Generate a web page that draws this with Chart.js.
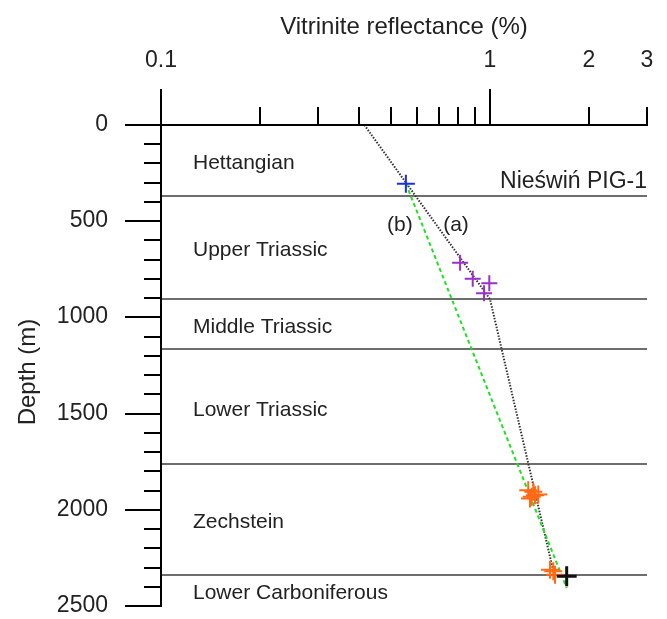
<!DOCTYPE html>
<html>
<head>
<meta charset="utf-8">
<script src="https://cdn.jsdelivr.net/npm/chart.js@4.4.0/dist/chart.umd.min.js"></script>
<style>
  html, body { margin: 0; padding: 0; background: #fff; }
  canvas { display: block; }
</style>
</head>
<body>
<canvas id="chart" width="667" height="619"></canvas>
<script>
// Vitrinite reflectance profile, Nieświń PIG-1 well

// Stratigraphic units and their base depths (m)
const unitNames = ['Hettangian', 'Upper Triassic', 'Middle Triassic', 'Lower Triassic', 'Zechstein', 'Lower Carboniferous'];
const boundaryDepths = [368, 906, 1166, 1764, 2338];

// Axis ticks
const roTicks = [0.1, 0.2, 0.3, 0.4, 0.5, 0.6, 0.7, 0.8, 0.9, 1, 2, 3];
const roTickLabels = ['0.1', '', '', '', '', '', '', '', '', '1', '2', '3'];
const depthTicks = [0, 100, 200, 300, 400, 500, 600, 700, 800, 900, 1000, 1100, 1200, 1300, 1400,
                    1500, 1600, 1700, 1800, 1900, 2000, 2100, 2200, 2300, 2400, 2500];
const depthTickLabels = ['0', '', '', '', '', '500', '', '', '', '', '1000', '', '', '', '',
                         '1500', '', '', '', '', '2000', '', '', '', '', '2500'];

// Measured Ro (%) and sample depth (m)
const hettangianRo = [0.555];
const hettangianDepth = [305];
const triassicRo = [0.811, 0.886, 0.995, 0.959];
const triassicDepth = [716, 799, 823, 875];
const zechsteinRo = [1.307, 1.354, 1.370, 1.402, 1.339, 1.323, 1.522, 1.557, 1.576];
const zechsteinDepth = [1898, 1906, 1924, 1920, 1932, 1941, 2312, 2320, 2338];
const carboniferousRo = [1.71];
const carboniferousDepth = [2346];

// Maturity trends: (a) dotted, (b) dashed
const trendARo = [0.415, 1.0, 1.556];
const trendADepth = [0, 905, 2315];
const trendBRo = [0.555, 1.71];
const trendBDepth = [305, 2407];

const pts = (xs, ys) => xs.map((v, i) => ({ x: v, y: ys[i] }));

const FONT = '"Liberation Sans", Arial, Helvetica, sans-serif';
const TEXT = '#222';

const framePlugin = {
  id: 'frame',
  beforeDatasetsDraw(chart) {
    const { ctx, chartArea: a, scales: { x, y } } = chart;
    ctx.save();
    // unit boundaries
    ctx.strokeStyle = '#6e6e6e';
    ctx.lineWidth = 2;
    boundaryDepths.forEach(d => {
      const py = Math.round(y.getPixelForValue(d));
      ctx.beginPath();
      ctx.moveTo(a.left, py);
      ctx.lineTo(a.right, py);
      ctx.stroke();
    });
    // unit names, centred in each interval
    ctx.fillStyle = TEXT;
    ctx.font = '21px ' + FONT;
    ctx.textAlign = 'left';
    ctx.textBaseline = 'middle';
    const edges = [y.min, ...boundaryDepths, y.max];
    unitNames.forEach((name, i) => {
      const py = y.getPixelForValue((edges[i] + edges[i + 1]) / 2) + 3;
      ctx.fillText(name, a.left + 32, py);
    });
    // well name
    ctx.font = '23px ' + FONT;
    ctx.textAlign = 'right';
    ctx.fillText('Nieświń PIG-1', a.right, y.getPixelForValue(boundaryDepths[0]) - 14);
    // trend labels
    ctx.font = '21px ' + FONT;
    ctx.textAlign = 'center';
    ctx.fillText('(b)', x.getPixelForValue(0.532), y.getPixelForValue(523));
    ctx.fillText('(a)', x.getPixelForValue(0.788), y.getPixelForValue(523));
    ctx.restore();
  },
  afterDatasetsDraw(chart) {
    const { ctx, chartArea: a, scales: { x, y } } = chart;
    ctx.save();
    ctx.strokeStyle = '#000';
    ctx.lineWidth = 2;
    ctx.lineCap = 'square';
    ctx.beginPath();
    ctx.moveTo(a.left, a.top);
    ctx.lineTo(a.right, a.top);
    ctx.moveTo(a.left, a.top);
    ctx.lineTo(a.left, a.bottom);
    ctx.stroke();

    ctx.lineCap = 'butt';
    ctx.fillStyle = TEXT;
    ctx.font = '23px ' + FONT;
    // Ro ticks (top)
    ctx.textAlign = 'center';
    ctx.textBaseline = 'middle';
    roTicks.forEach((v, i) => {
      const px = Math.round(x.getPixelForValue(v));
      const major = Math.abs(Math.log10(v) - Math.round(Math.log10(v))) < 1e-9;
      const len = major ? 36 : 18;
      ctx.beginPath();
      ctx.moveTo(px, a.top);
      ctx.lineTo(px, a.top - len);
      ctx.stroke();
      if (roTickLabels[i]) ctx.fillText(roTickLabels[i], px, 61);
    });
    // depth ticks (left)
    ctx.textAlign = 'right';
    depthTicks.forEach((v, i) => {
      const py = Math.round(y.getPixelForValue(v));
      const len = depthTickLabels[i] ? 36 : 17;
      ctx.beginPath();
      ctx.moveTo(a.left, py);
      ctx.lineTo(a.left - len, py);
      ctx.stroke();
      if (depthTickLabels[i]) ctx.fillText(depthTickLabels[i], 108, py);
    });
    // axis titles
    ctx.font = '24px ' + FONT;
    ctx.textAlign = 'center';
    ctx.fillText('Vitrinite reflectance (%)', (a.left + a.right) / 2, 27);
    ctx.translate(28, 372);
    ctx.rotate(-Math.PI / 2);
    ctx.fillText('Depth (m)', 0, 0);
    ctx.restore();
  }
};

new Chart(document.getElementById('chart'), {
  type: 'scatter',
  data: {
    datasets: [
      {
        label: 'Lower Carboniferous',
        data: pts(carboniferousRo, carboniferousDepth),
        pointStyle: 'cross', pointRadius: 10, pointBorderWidth: 3,
        borderColor: '#111', backgroundColor: '#111', order: 0
      },
      {
        label: 'Zechstein',
        data: pts(zechsteinRo, zechsteinDepth),
        pointStyle: 'cross', pointRadius: 9, pointBorderWidth: 2,
        borderColor: '#ff6a14', backgroundColor: '#ff6a14', order: 1
      },
      {
        label: 'Upper Triassic',
        data: pts(triassicRo, triassicDepth),
        pointStyle: 'cross', pointRadius: 8, pointBorderWidth: 2,
        borderColor: '#9b30cc', backgroundColor: '#9b30cc', order: 2
      },
      {
        label: 'Hettangian',
        data: pts(hettangianRo, hettangianDepth),
        pointStyle: 'cross', pointRadius: 9, pointBorderWidth: 2,
        borderColor: '#1f2fe0', backgroundColor: '#1f2fe0', order: 3
      },
      {
        label: '(b)',
        data: pts(trendBRo, trendBDepth),
        showLine: true, pointRadius: 0, borderWidth: 2,
        borderDash: [4, 3], borderColor: '#22e022', order: 4
      },
      {
        label: '(a)',
        data: pts(trendARo, trendADepth),
        showLine: true, pointRadius: 0, borderWidth: 2,
        borderDash: [1.5, 1.5], borderColor: '#333', order: 5
      }
    ]
  },
  options: {
    responsive: false,
    animation: false,
    layout: { padding: { left: 161, top: 125, right: 20, bottom: 11 } },
    plugins: { legend: { display: false }, tooltip: { enabled: false } },
    scales: {
      x: { type: 'logarithmic', position: 'top', min: 0.1, max: 3, display: false },
      y: { type: 'linear', reverse: true, min: 0, max: 2500, display: false }
    }
  },
  plugins: [framePlugin]
});
</script>
</body>
</html>
